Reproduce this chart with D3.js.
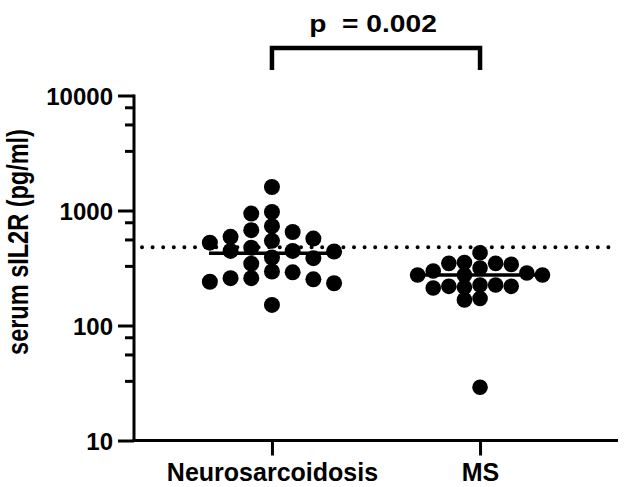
<!DOCTYPE html>
<html>
<head>
<meta charset="utf-8">
<script src="https://cdn.jsdelivr.net/npm/d3@7"></script>
<style>
  html, body { margin: 0; padding: 0; background: #fff; }
  svg { display: block; }
  text { font-family: "Liberation Sans", Arial, sans-serif; font-weight: bold; fill: #000; }
</style>
</head>
<body>
<svg id="chart" width="624" height="487"></svg>
<script>
// ---------------- data ----------------
const categories = ["Neurosarcoidosis", "MS"];
const nsValues = [1600, 970, 940, 730, 675, 650, 590, 570, 545, 525, 475, 445, 445, 440,
                  390, 385, 345, 295, 290, 258, 258, 252, 240, 233, 151];
const msValues = [429, 353, 347, 347, 340, 316, 298, 286, 275, 275, 275, 225, 225, 219,
                  219, 215, 212, 172, 167, 29];
const medians = [425, 275];
const cutoffValue = 480;
const yTickValues = [10, 100, 1000, 10000];
const yMinorTickValues = [33, 56, 79, 330, 560, 790, 3300, 5600, 7900];
const yTitle = "serum sIL2R (pg/ml)";
const pLabel = "p  = 0.002";

// ---------------- layout ----------------
const svg = d3.select("#chart");
const W = 624, H = 487;
svg.append("rect").attr("width", W).attr("height", H).attr("fill", "#fff");

const x = d3.scalePoint().domain(categories).range([134, 618]).padding(0.663);
const y = d3.scaleLog().domain([10, 10000]).range([440.5, 95.5]);

const axisW = 3;
const FONT = "Liberation Sans, Arial, sans-serif";

// Y axis
const yAxisG = svg.append("g").attr("transform", "translate(134,0)");
yAxisG.call(d3.axisLeft(y).tickValues(yTickValues).tickFormat(d3.format("d")).tickSize(16).tickPadding(5));
const yMinorG = svg.append("g").attr("transform", "translate(134,0)");
yMinorG.call(d3.axisLeft(y).tickValues(yMinorTickValues).tickFormat("").tickSize(9));
yMinorG.select(".domain").remove();
[yAxisG, yMinorG].forEach(g => {
  g.selectAll("line").attr("stroke", "#000").attr("stroke-width", axisW);
  g.selectAll(".domain").attr("stroke", "#000").attr("stroke-width", axisW).attr("d", `M0,${y(10000)-1}V${y(10)+1.5}`);
});
yAxisG.selectAll("text")
  .attr("font-size", 24).attr("font-family", FONT)
  .attr("font-weight", "bold").attr("fill", "#000").attr("dy", "0.36em");

// X axis
const xAxisG = svg.append("g").attr("transform", `translate(0,${y(10)})`);
xAxisG.call(d3.axisBottom(x).tickSize(15).tickPadding(8));
xAxisG.select(".domain").attr("stroke", "#000").attr("stroke-width", axisW)
  .attr("d", `M132.5,0H618`);
xAxisG.selectAll("line").attr("stroke", "#000").attr("stroke-width", axisW);
xAxisG.selectAll("text")
  .attr("font-size", 25).attr("font-family", FONT)
  .attr("font-weight", "bold").attr("fill", "#000").attr("dy", "0.71em");

// Y title
svg.append("text")
  .attr("transform", `translate(28,242) rotate(-90) scale(1,1.25)`)
  .attr("text-anchor", "middle")
  .attr("font-size", 23.5)
  .text(yTitle);

// cutoff dotted line
svg.append("line")
  .attr("x1", 142).attr("x2", 616)
  .attr("y1", y(cutoffValue)).attr("y2", y(cutoffValue))
  .attr("stroke", "#000").attr("stroke-width", 4)
  .attr("stroke-linecap", "round").attr("stroke-dasharray", "0,10.6");

// beeswarm layout
function swarm(values, cx, step, minDist) {
  const order = values.map((v, i) => i).sort((a, b) => values[b] - values[a]);
  const placed = [];
  const slots = [0];
  for (let k = 1; k <= 12; k++) { slots.push(-k, k); }
  order.forEach(i => {
    const py = y(values[i]);
    for (const k of slots) {
      const px = cx + k * step;
      const ok = placed.every(p => Math.hypot(p.x - px, p.y - py) >= minDist);
      if (ok) { placed.push({ x: px, y: py, v: values[i] }); break; }
    }
  });
  return placed;
}

const groups = [
  { name: categories[0], values: nsValues, step: 20.7, r: 8, gap: 13 },
  { name: categories[1], values: msValues, step: 15.6, r: 7.8, gap: 12 }
];

// median lines
svg.selectAll(".median")
  .data(categories)
  .join("line")
  .attr("class", "median")
  .attr("x1", d => x(d) - 63).attr("x2", d => x(d) + 63)
  .attr("y1", (d, i) => y(medians[i])).attr("y2", (d, i) => y(medians[i]))
  .attr("stroke", "#000").attr("stroke-width", 3.5);

groups.forEach(g => {
  const pts = swarm(g.values, x(g.name), g.step, g.gap);
  svg.append("g").selectAll("circle")
    .data(pts).join("circle")
    .attr("cx", d => d.x).attr("cy", d => d.y).attr("r", g.r)
    .attr("fill", "#000");
});

// significance bracket
const bTop = 48, bBot = 70;
svg.append("path")
  .attr("d", `M${x(categories[0])},${bBot}V${bTop}H${x(categories[1])}V${bBot}`)
  .attr("fill", "none").attr("stroke", "#000").attr("stroke-width", 4.5)
  .attr("stroke-linejoin", "miter");
const pcx = (x(categories[0]) + x(categories[1])) / 2 - 3;
svg.append("text")
  .attr("transform", `translate(${pcx},32) scale(1.2,1)`)
  .attr("text-anchor", "middle")
  .attr("font-size", 23.5)
  .attr("xml:space", "preserve")
  .style("white-space", "pre")
  .text(pLabel);
</script>
</body>
</html>
